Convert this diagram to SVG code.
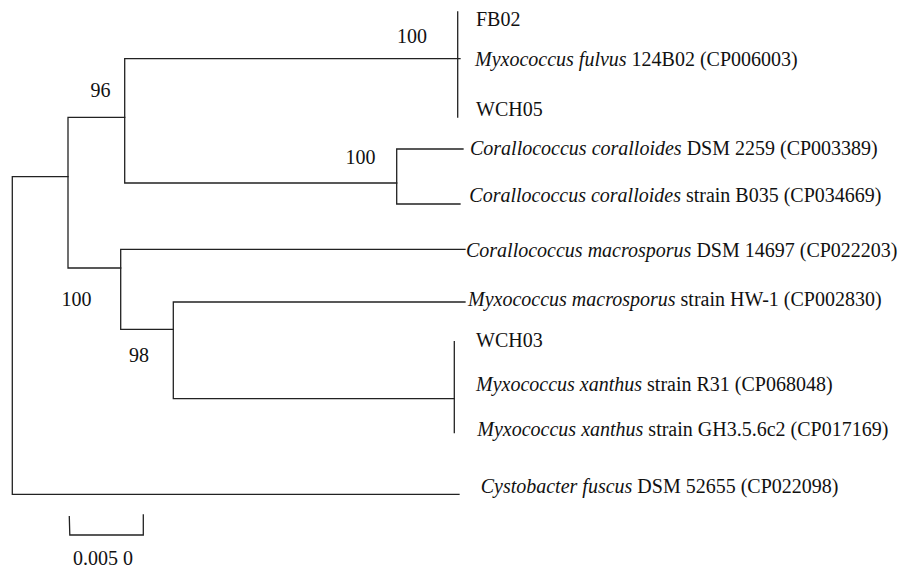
<svg xmlns="http://www.w3.org/2000/svg" width="904" height="570" viewBox="0 0 904 570">
<style>
text{font-family:"Liberation Serif","Times New Roman",serif;font-size:20px;fill:#111}
.i{font-style:italic}
.br{stroke:#222;stroke-width:1.3;fill:none;stroke-linecap:square}
</style>
<rect width="904" height="570" fill="#fff"/>
<g id="connectors" class="br">
<path d="M12.3,176.7 V494.3 M12.3,176.7 H68 M12.3,494.3 H459"/>
<path d="M68,117.3 V268 M68,117.3 H124.7 M68,268 H120.7"/>
<path d="M124.7,58.7 V183 M124.7,58.7 H460 M124.7,183 H396.7"/>
<path d="M457.7,12 V117"/>
<path d="M396.7,149 V204 M396.7,149 H463 M396.7,204 H460"/>
<path d="M120.7,249.3 V329.3 M120.7,249.3 H465 M120.7,329.3 H173.3"/>
<path d="M173.3,302 V398.7 M173.3,302 H465 M173.3,398.7 H454.3"/>
<path d="M454.3,341.7 V432.7"/>
</g>
<g id="leaf-FB02"><text x="476" y="26">FB02</text></g>
<g id="leaf-fulvus"><text x="475" y="66.3"><tspan class="i">Myxococcus fulvus</tspan> 124B02 (CP006003)</text></g>
<g id="leaf-WCH05"><text x="476" y="115.5">WCH05</text></g>
<g id="leaf-coralloides-DSM"><text x="470" y="155">
<tspan class="i">Corallococcus coralloides</tspan> DSM 2259 (CP003389)</text></g>
<g id="leaf-coralloides-B035"><text x="469.3" y="201.7"><tspan class="i">Corallococcus coralloides</tspan> strain B035 (CP034669)</text></g>
<g id="leaf-cor-macrosporus"><text x="466" y="256.7"><tspan class="i">Corallococcus macrosporus</tspan> DSM 14697 (CP022203)</text></g>
<g id="leaf-myx-macrosporus"><text x="468" y="306"><tspan class="i">Myxococcus macrosporus</tspan> strain HW-1 (CP002830)</text></g>
<g id="leaf-WCH03"><text x="476" y="347">WCH03</text></g>
<g id="leaf-xanthus-R31"><text x="476" y="391"><tspan class="i">Myxococcus xanthus</tspan> strain R31 (CP068048)</text></g>
<g id="leaf-xanthus-GH3"><text x="477.3" y="436"><tspan class="i">Myxococcus xanthus</tspan> strain GH3.5.6c2 (CP017169)</text></g>
<g id="leaf-cystobacter"><text x="480.7" y="492.5"><tspan class="i">Cystobacter fuscus</tspan> DSM 52655 (CP022098)</text></g>
<g id="bootstrap-100a"><text x="397" y="43.3">100</text></g>
<g id="bootstrap-96"><text x="90.5" y="97.3">96</text></g>
<g id="bootstrap-100b"><text x="345.5" y="164">100</text></g>
<g id="bootstrap-100c"><text x="61.5" y="306">100</text></g>
<g id="bootstrap-98"><text x="129" y="361.7">98</text></g>
<g id="scale-bar">
<path class="br" d="M69.3,516.7 L69.8,535 H143.3 V515"/>
<text x="73" y="565">0.005 0</text>
</g>
</svg>
